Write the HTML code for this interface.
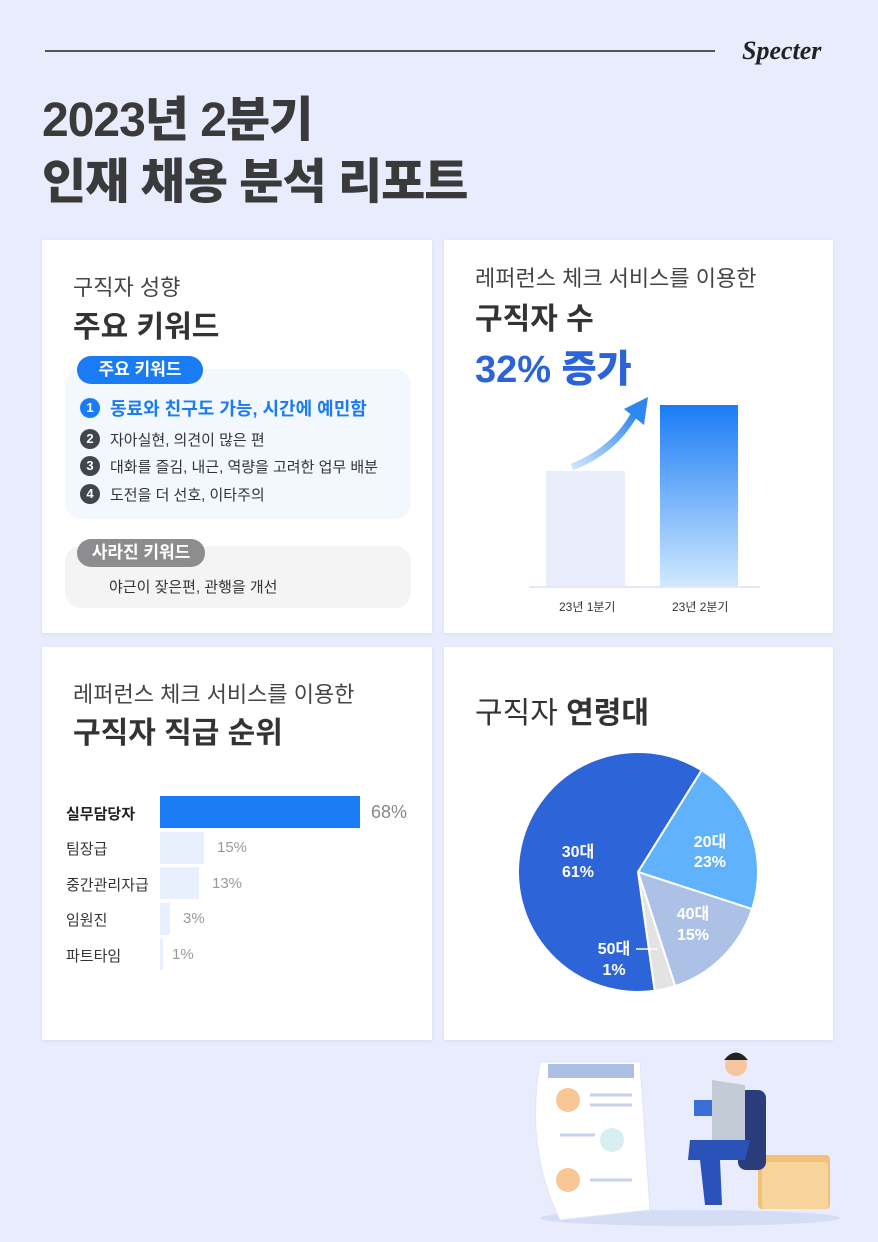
<!DOCTYPE html>
<html><head><meta charset="utf-8"><style>
*{margin:0;padding:0;box-sizing:border-box}
body{width:878px;height:1242px;background:#e8ecfc;font-family:"Liberation Sans","Noto Sans CJK KR",sans-serif;position:relative;overflow:hidden;color:#333}
.a{position:absolute;white-space:nowrap}
.card{position:absolute;background:#fff;box-shadow:0 1px 3px rgba(120,130,180,.15)}
</style></head><body>
<div class="a" style="left:45px;top:50px;width:670px;height:2px;background:#555"></div>
<div class="a" style="left:742px;top:36px;font-family:'Liberation Serif',serif;font-style:italic;font-weight:bold;font-size:26px;color:#222">Specter</div>
<div class="a" style="left:42px;top:90px;font-size:48px;font-weight:900;line-height:62px;color:#3a3a3a;letter-spacing:-1px">2023년 2분기<br>인재 채용 분석 리포트</div>

<div class="card" style="left:42px;top:240px;width:390px;height:393px"></div>
<div class="card" style="left:444px;top:240px;width:389px;height:393px"></div>
<div class="card" style="left:42px;top:647px;width:390px;height:393px"></div>
<div class="card" style="left:444px;top:647px;width:389px;height:393px"></div>

<div class="a" style="left:73px;top:270px;font-size:22px;color:#444">구직자 성향</div>
<div class="a" style="left:73px;top:302px;font-size:30px;font-weight:bold;color:#333">주요 키워드</div>
<div class="a" style="left:65px;top:369px;width:346px;height:150px;background:#f3f7fe;border-radius:16px"></div>
<div class="a" style="left:77px;top:356px;width:126px;height:28px;background:#1a7cf5;border-radius:14px;color:#fff;font-size:17px;font-weight:bold;text-align:center;line-height:28px">주요 키워드</div>
<div class="a" style="left:80px;top:398px;width:20px;height:20px;border-radius:50%;background:#1a7cf5;color:#fff;font-size:13px;font-weight:bold;text-align:center;line-height:20px">1</div>
<div class="a" style="left:110px;top:395px;font-size:18px;font-weight:bold;color:#1a7cf5">동료와 친구도 가능, 시간에 예민함</div>
<div class="a" style="left:80px;top:429px;width:20px;height:20px;border-radius:50%;background:#3f4650;color:#fff;font-size:13px;font-weight:bold;text-align:center;line-height:20px">2</div>
<div class="a" style="left:110px;top:429px;font-size:15px;color:#333">자아실현, 의견이 많은 편</div>
<div class="a" style="left:80px;top:456px;width:20px;height:20px;border-radius:50%;background:#3f4650;color:#fff;font-size:13px;font-weight:bold;text-align:center;line-height:20px">3</div>
<div class="a" style="left:110px;top:456px;font-size:15px;color:#333">대화를 즐김, 내근, 역량을 고려한 업무 배분</div>
<div class="a" style="left:80px;top:484px;width:20px;height:20px;border-radius:50%;background:#3f4650;color:#fff;font-size:13px;font-weight:bold;text-align:center;line-height:20px">4</div>
<div class="a" style="left:110px;top:484px;font-size:15px;color:#333">도전을 더 선호, 이타주의</div>
<div class="a" style="left:65px;top:546px;width:346px;height:62px;background:#f4f4f5;border-radius:16px"></div>
<div class="a" style="left:77px;top:539px;width:128px;height:28px;background:#8d8d8f;border-radius:14px;color:#fff;font-size:17px;font-weight:bold;text-align:center;line-height:28px">사라진 키워드</div>
<div class="a" style="left:109px;top:576px;font-size:15px;color:#333">야근이 잦은편, 관행을 개선</div>

<div class="a" style="left:475px;top:261px;font-size:22px;color:#444">레퍼런스 체크 서비스를 이용한</div>
<div class="a" style="left:475px;top:294px;font-size:30px;font-weight:bold;color:#333">구직자 수</div>
<div class="a" style="left:475px;top:338px;font-size:38px;font-weight:900;color:#2b63d9">32% 증가</div>
<div class="a" style="left:546px;top:471px;width:79px;height:115px;background:#e9edfb"></div>
<div class="a" style="left:660px;top:405px;width:78px;height:181px;background:linear-gradient(#1a7cf5,#cfe9ff)"></div>
<div class="a" style="left:529px;top:586px;width:231px;height:2px;background:#e3e8f8"></div>
<svg class="a" style="left:560px;top:395px" width="100" height="75"><defs><linearGradient id="g" x1="0" y1="1" x2="1" y2="0"><stop offset="0" stop-color="#cfe6fd"/><stop offset="1" stop-color="#2e86f0"/></linearGradient></defs><path d="M12 72 Q55 55 75 18" stroke="url(#g)" stroke-width="7" fill="none"/><path d="M64 14 L88 2 L84 30 Z" fill="#2e86f0"/></svg>
<div class="a" style="left:559px;top:598px;font-size:12px;color:#333">23년 1분기</div>
<div class="a" style="left:672px;top:598px;font-size:12px;color:#333">23년 2분기</div>

<div class="a" style="left:73px;top:677px;font-size:22px;color:#444">레퍼런스 체크 서비스를 이용한</div>
<div class="a" style="left:73px;top:708px;font-size:30px;font-weight:bold;color:#333">구직자 직급 순위</div>
<div class="a" style="left:66px;top:803px;font-size:15px;font-weight:bold;color:#222">실무담당자</div>
<div class="a" style="left:66px;top:838px;font-size:15px;color:#333">팀장급</div>
<div class="a" style="left:66px;top:874px;font-size:15px;color:#333">중간관리자급</div>
<div class="a" style="left:66px;top:909px;font-size:15px;color:#333">임원진</div>
<div class="a" style="left:66px;top:945px;font-size:15px;color:#333">파트타임</div>
<div class="a" style="left:160px;top:796px;width:200px;height:32px;background:#1a7cf5"></div>
<div class="a" style="left:160px;top:832px;width:44px;height:32px;background:#e9f0fd"></div>
<div class="a" style="left:160px;top:867px;width:39px;height:32px;background:#e9f0fd"></div>
<div class="a" style="left:160px;top:903px;width:10px;height:32px;background:#e9f0fd"></div>
<div class="a" style="left:160px;top:938px;width:3px;height:32px;background:#e9f0fd"></div>
<div class="a" style="left:371px;top:802px;font-size:18px;color:#888">68%</div>
<div class="a" style="left:217px;top:839px;font-size:15px;color:#999">15%</div>
<div class="a" style="left:212px;top:875px;font-size:15px;color:#999">13%</div>
<div class="a" style="left:183px;top:910px;font-size:15px;color:#999">3%</div>
<div class="a" style="left:172px;top:946px;font-size:15px;color:#999">1%</div>

<div class="a" style="left:475px;top:688px;font-size:30px;color:#333">구직자 <b>연령대</b></div>
<svg class="a" style="left:0;top:0" width="878" height="1242">
<g stroke="#fff" stroke-width="2">
<path d="M638 872 L701.6 770.2 A120 120 0 0 1 752.1 909.1 Z" fill="#5fb2fb"/>
<path d="M638 872 L752.1 909.1 A120 120 0 0 1 675.1 986.1 Z" fill="#adc0e6"/>
<path d="M638 872 L675.1 986.1 A120 120 0 0 1 654.7 990.8 Z" fill="#e3e3e3"/>
<path d="M638 872 L654.7 990.8 A120 120 0 1 1 701.6 770.2 Z" fill="#2d64d8"/>
</g>
<g fill="#fff" font-weight="bold" font-size="16" text-anchor="middle" font-family="Liberation Sans,Noto Sans CJK KR,sans-serif">
<text x="578" y="857">30대</text><text x="578" y="877">61%</text>
<text x="710" y="847">20대</text><text x="710" y="867">23%</text>
<text x="693" y="919">40대</text><text x="693" y="940">15%</text>
<text x="614" y="954">50대</text><text x="614" y="975">1%</text>
</g>
<line x1="636" y1="949" x2="658" y2="949" stroke="#fff" stroke-width="1.5"/>
<ellipse cx="690" cy="1218" rx="150" ry="8" fill="#d4dcf6"/>
<path d="M540 1062 L640 1062 L650 1210 L560 1220 Q525 1150 540 1062 Z" fill="#fff" stroke="#dfe5f7"/>
<rect x="548" y="1064" width="86" height="14" fill="#aebfe4"/>
<circle cx="568" cy="1100" r="12" fill="#f6c795"/><circle cx="612" cy="1140" r="12" fill="#d8eef0"/><circle cx="568" cy="1180" r="12" fill="#f6c795"/>
<g stroke="#c8d2ee" stroke-width="3"><line x1="590" y1="1095" x2="632" y2="1095"/><line x1="590" y1="1105" x2="632" y2="1105"/><line x1="560" y1="1135" x2="595" y2="1135"/><line x1="590" y1="1180" x2="632" y2="1180"/></g>
<rect x="758" y="1155" width="72" height="54" rx="4" fill="#f3c07a"/><rect x="762" y="1162" width="66" height="47" rx="3" fill="#f7d49c"/>
<rect x="738" y="1090" width="28" height="80" rx="8" fill="#2a3d7a"/>
<path d="M712 1080 L745 1085 L745 1140 L712 1140 Z" fill="#c3ccd6"/>
<path d="M690 1140 L750 1140 L745 1160 L720 1160 L722 1205 L705 1205 L700 1160 L688 1160 Z" fill="#2a52b8"/>
<circle cx="736" cy="1065" r="11" fill="#f4c6a0"/><path d="M724 1060 Q736 1045 748 1060 Z" fill="#222"/>
<rect x="694" y="1100" width="18" height="16" fill="#3a6fd8"/>
</svg>
</body></html>
